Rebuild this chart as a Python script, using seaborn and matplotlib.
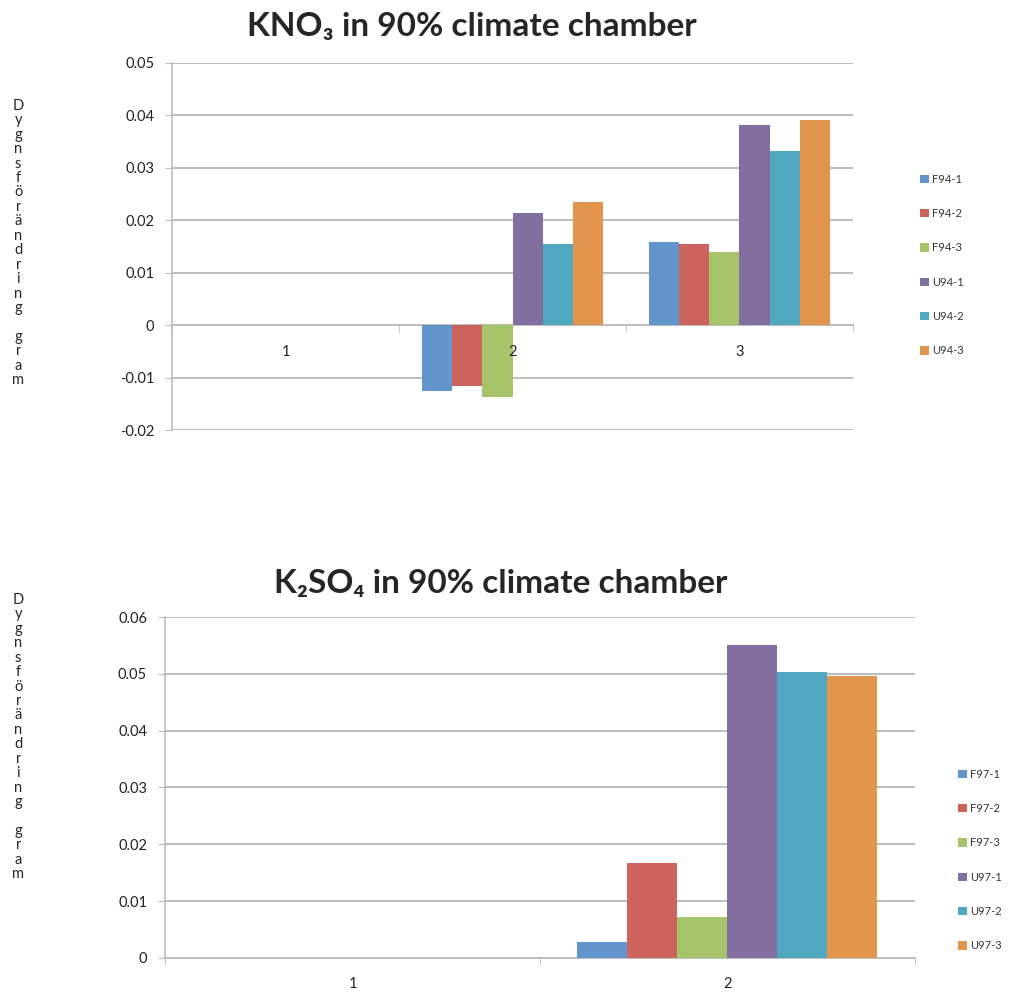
import matplotlib
matplotlib.use('Agg')
import matplotlib.pyplot as plt
import seaborn as sns
import pandas as pd
from matplotlib.ticker import MultipleLocator, FuncFormatter, FixedLocator
from matplotlib.patches import Patch

# ---------------- data ----------------
kno3_categories = ['1', '2', '3']
kno3_series = ['F94-1', 'F94-2', 'F94-3', 'U94-1', 'U94-2', 'U94-3']
kno3_f94_1 = [0.0, -0.0125, 0.0158]
kno3_f94_2 = [0.0, -0.0116, 0.0154]
kno3_f94_3 = [0.0, -0.0137, 0.0139]
kno3_u94_1 = [0.0, 0.0214, 0.0381]
kno3_u94_2 = [0.0, 0.0155, 0.0333]
kno3_u94_3 = [0.0, 0.0234, 0.0392]

k2so4_categories = ['1', '2']
k2so4_series = ['F97-1', 'F97-2', 'F97-3', 'U97-1', 'U97-2', 'U97-3']
k2so4_f97_1 = [0.0, 0.0028]
k2so4_f97_2 = [0.0, 0.0168]
k2so4_f97_3 = [0.0, 0.0072]
k2so4_u97_1 = [0.0, 0.0551]
k2so4_u97_2 = [0.0, 0.0504]
k2so4_u97_3 = [0.0, 0.0497]

title_top = 'KNO\u2083 in 90% climate chamber'
title_bottom = 'K\u2082SO\u2084 in 90% climate chamber'
ylabel = 'Dygnsförändring gram'

colors = ['#6195CB', '#CC645D', '#A8C46B', '#836EA0', '#4FA7C0', '#E2954C']


def long_df(categories, series, rows):
    recs = []
    for s, vals in zip(series, rows):
        for c, v in zip(categories, vals):
            recs.append({'cat': c, 'series': s, 'val': v})
    return pd.DataFrame(recs)


df_top = long_df(kno3_categories, kno3_series,
                 [kno3_f94_1, kno3_f94_2, kno3_f94_3, kno3_u94_1, kno3_u94_2, kno3_u94_3])
df_bot = long_df(k2so4_categories, k2so4_series,
                 [k2so4_f97_1, k2so4_f97_2, k2so4_f97_3, k2so4_u97_1, k2so4_u97_2, k2so4_u97_3])

sns.set_style('white')
plt.rcParams['font.family'] = ['Lato', 'DejaVu Sans']

fig = plt.figure(figsize=(10.13, 9.92), dpi=100)
ax1 = fig.add_axes([0.170, 0.5665, 0.672, 0.370])
ax2 = fig.add_axes([0.163, 0.0343, 0.740, 0.3437])

grid_c = '#BDBDBD'
fmt = FuncFormatter(lambda v, p: '0' if abs(v) < 1e-9 else f'{v:.2f}'.replace('\u2212', '-'))


def style(ax, df, series, ncat, ylim, step):
    sns.barplot(data=df, x='cat', y='val', hue='series', hue_order=series,
                palette=colors, width=0.8, saturation=1, linewidth=0,
                ax=ax, legend=False, errorbar=None, zorder=3)
    ax.set_ylim(*ylim)
    ax.set_xlim(-0.5, ncat - 0.5)
    ax.yaxis.set_major_locator(MultipleLocator(step))
    ax.yaxis.set_major_formatter(fmt)
    ax.grid(axis='y', color=grid_c, linewidth=1.4, zorder=0)
    ax.set_axisbelow(True)
    ax.xaxis.set_zorder(5)
    for sp in ['top', 'right']:
        ax.spines[sp].set_visible(False)
    ax.spines['left'].set_color(grid_c)
    ax.spines['left'].set_linewidth(1.2)
    ax.spines['bottom'].set_position(('data', 0))
    ax.spines['bottom'].set_color(grid_c)
    ax.spines['bottom'].set_linewidth(1.4)
    ax.spines['bottom'].set_zorder(1)
    ax.tick_params(axis='y', length=5, color=grid_c, labelsize=10.5, labelcolor='#222222', pad=8, left=True)
    ax.tick_params(axis='x', which='major', length=0, labelsize=10.5, labelcolor='#222222', pad=14)
    ax.xaxis.set_minor_locator(FixedLocator([i - 0.5 for i in range(ncat + 1)]))
    ax.tick_params(axis='x', which='minor', length=5, color=grid_c, bottom=True)
    ax.set_xlabel('')
    ax.set_ylabel('')


style(ax1, df_top, kno3_series, 3, (-0.02, 0.05), 0.01)
style(ax2, df_bot, k2so4_series, 2, (0.0, 0.06), 0.01)

fig.text(0.466, 0.973, title_top, ha='center', va='center', fontsize=24, fontweight='bold')
fig.text(0.494, 0.412, title_bottom, ha='center', va='center', fontsize=24, fontweight='bold')

vlabel = '\n'.join(list(ylabel))
fig.text(0.018, 0.755, vlabel, ha='center', va='center', fontsize=10.5, linespacing=1.04)
fig.text(0.018, 0.257, vlabel, ha='center', va='center', fontsize=10.5, linespacing=1.04)


def add_legend(ax, series, x, y):
    handles = [Patch(facecolor=c, edgecolor='none', label=s) for c, s in zip(colors, series)]
    ax.legend(handles=handles, loc='center left', bbox_to_anchor=(x, y),
              bbox_transform=fig.transFigure, frameon=False, fontsize=8,
              labelspacing=2.1, handlelength=0.8, handleheight=0.8, handletextpad=0.3,
              labelcolor='#333333')


add_legend(ax1, kno3_series, 0.898, 1 - 265 / 992)
add_legend(ax2, k2so4_series, 0.936, 1 - 860 / 992)

fig.savefig('out.png', dpi=100)
